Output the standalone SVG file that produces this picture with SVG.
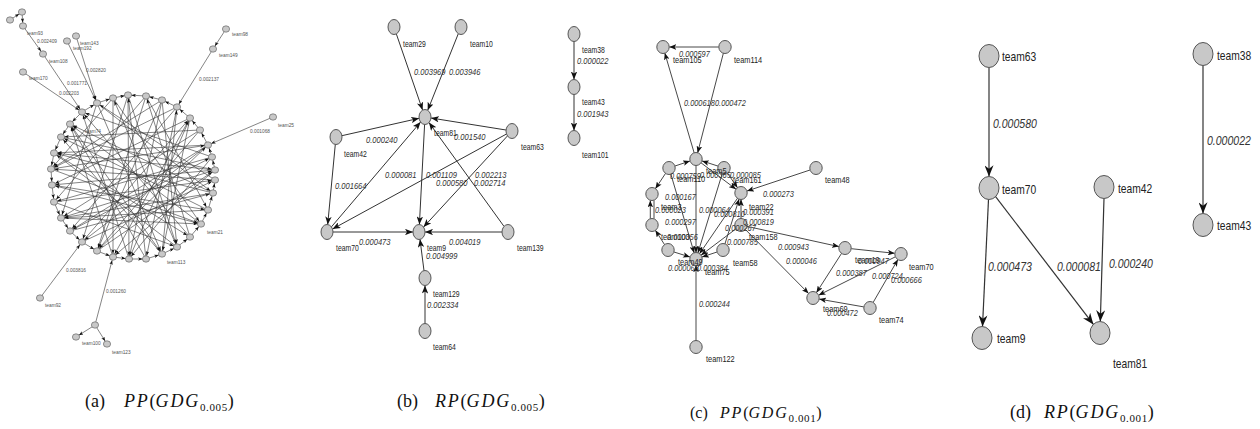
<svg xmlns="http://www.w3.org/2000/svg" width="1260" height="429" viewBox="0 0 1260 429">
<style>
  .bg{fill:#fff}
  .node ellipse{fill:#c8c8c8;stroke:#555;stroke-width:1}
  .na ellipse{fill:#c8c8c8;stroke:#555;stroke-width:.6}
  .ea line{stroke:#333;stroke-width:.6;marker-end:url(#ma)}
  .eb line{stroke:#333;stroke-width:1;marker-end:url(#mb)}
  .ec line{stroke:#333;stroke-width:.9;marker-end:url(#mc)}
  .ed line{stroke:#333;stroke-width:1.2;marker-end:url(#md)}
  text{font-family:"Liberation Sans",Arial,sans-serif;fill:#222}
  .ta{font-size:4.8px;fill:#555}
  .tb{font-size:9px}
  .wb{font-size:9px;font-style:italic;fill:#333}
  .tc{font-size:8.5px}
  .wc{font-size:8.5px;font-style:italic;fill:#333}
  .td{font-size:13px}
  .wd{font-size:13.5px;font-style:italic;fill:#333}
  .cap{font-family:"Liberation Serif","Times New Roman",serif;font-size:18px;fill:#111}
  .cap .i{font-style:italic;letter-spacing:1.8px}
  .cap .s{font-size:11px;letter-spacing:.6px}
</style>
<defs>
  <marker id="ma" viewBox="0 0 10 8" markerUnits="userSpaceOnUse" markerWidth="4.4" markerHeight="3.5" refX="18" refY="4" orient="auto"><path d="M0,0L10,4L0,8L2.5,4z" fill="#111"/></marker>
  <marker id="mb" viewBox="0 0 10 8" markerUnits="userSpaceOnUse" markerWidth="8" markerHeight="6.4" refX="10" refY="4" orient="auto"><path d="M0,0L10,4L0,8L2.5,4z" fill="#111"/></marker>
  <marker id="mc" viewBox="0 0 10 8" markerUnits="userSpaceOnUse" markerWidth="7" markerHeight="5.6" refX="10" refY="4" orient="auto"><path d="M0,0L10,4L0,8L2.5,4z" fill="#111"/></marker>
  <marker id="md" viewBox="0 0 10 8" markerUnits="userSpaceOnUse" markerWidth="12" markerHeight="9" refX="10" refY="4" orient="auto"><path d="M0,0L10,4L0,8L3,4z" fill="#111"/></marker>
</defs>
<rect class="bg" x="0" y="0" width="1260" height="429"/>

<!-- ===== (a) large graph ===== -->
<g id="a-connectors" class="ea">
  <line x1="97" y1="103" x2="162" y2="254"/>
  <line x1="97" y1="103" x2="213" y2="193"/>
  <line x1="113" y1="98" x2="113" y2="257"/>
  <line x1="113" y1="98" x2="201" y2="224"/>
  <line x1="128" y1="95" x2="129" y2="259"/>
  <line x1="128" y1="95" x2="82" y2="242"/>
  <line x1="128" y1="95" x2="177" y2="247"/>
  <line x1="146" y1="96" x2="54" y2="202"/>
  <line x1="146" y1="96" x2="208" y2="210"/>
  <line x1="162" y1="100" x2="97" y2="251"/>
  <line x1="162" y1="100" x2="51" y2="169"/>
  <line x1="177" y1="107" x2="70" y2="231"/>
  <line x1="177" y1="107" x2="146" y2="259"/>
  <line x1="190" y1="118" x2="52" y2="185"/>
  <line x1="190" y1="118" x2="113" y2="257"/>
  <line x1="200" y1="130" x2="61" y2="218"/>
  <line x1="200" y1="130" x2="61" y2="137"/>
  <line x1="208" y1="145" x2="82" y2="242"/>
  <line x1="208" y1="145" x2="54" y2="153"/>
  <line x1="212" y1="157" x2="54" y2="202"/>
  <line x1="212" y1="157" x2="82" y2="112"/>
  <line x1="215" y1="170" x2="52" y2="185"/>
  <line x1="215" y1="170" x2="113" y2="257"/>
  <line x1="215" y1="180" x2="51" y2="169"/>
  <line x1="215" y1="180" x2="97" y2="103"/>
  <line x1="213" y1="193" x2="54" y2="153"/>
  <line x1="213" y1="193" x2="70" y2="124"/>
  <line x1="208" y1="210" x2="61" y2="137"/>
  <line x1="201" y1="224" x2="70" y2="124"/>
  <line x1="201" y1="224" x2="52" y2="185"/>
  <line x1="190" y1="237" x2="82" y2="112"/>
  <line x1="190" y1="237" x2="146" y2="96"/>
  <line x1="177" y1="247" x2="54" y2="153"/>
  <line x1="177" y1="247" x2="113" y2="98"/>
  <line x1="162" y1="254" x2="61" y2="137"/>
  <line x1="162" y1="254" x2="177" y2="107"/>
  <line x1="146" y1="259" x2="70" y2="124"/>
  <line x1="146" y1="259" x2="128" y2="95"/>
  <line x1="129" y1="259" x2="82" y2="112"/>
  <line x1="129" y1="259" x2="190" y2="118"/>
  <line x1="113" y1="257" x2="70" y2="124"/>
  <line x1="97" y1="251" x2="208" y2="145"/>
  <line x1="97" y1="251" x2="215" y2="170"/>
  <line x1="82" y1="242" x2="215" y2="180"/>
  <line x1="82" y1="242" x2="190" y2="118"/>
  <line x1="70" y1="231" x2="212" y2="157"/>
  <line x1="70" y1="231" x2="213" y2="193"/>
  <line x1="61" y1="218" x2="215" y2="170"/>
  <line x1="61" y1="218" x2="201" y2="224"/>
  <line x1="54" y1="202" x2="215" y2="180"/>
  <line x1="54" y1="202" x2="177" y2="247"/>
  <line x1="52" y1="185" x2="208" y2="210"/>
  <line x1="51" y1="169" x2="201" y2="224"/>
  <line x1="51" y1="169" x2="208" y2="145"/>
  <line x1="54" y1="153" x2="190" y2="237"/>
  <line x1="61" y1="137" x2="215" y2="170"/>
  <line x1="70" y1="124" x2="162" y2="254"/>
  <line x1="177" y1="107" x2="51" y2="169"/>
  <line x1="200" y1="130" x2="97" y2="251"/>
  <line x1="212" y1="157" x2="129" y2="259"/>
  <line x1="162" y1="100" x2="177" y2="247"/>
  <line x1="97" y1="103" x2="61" y2="218"/>
  <line x1="113" y1="98" x2="51" y2="169"/>
  <line x1="208" y1="210" x2="61" y2="218"/>
  <line x1="146" y1="96" x2="97" y2="251"/>
  <line x1="162" y1="100" x2="129" y2="259"/>
  <line x1="190" y1="118" x2="162" y2="254"/>
  <line x1="215" y1="170" x2="54" y2="153"/>
  <line x1="213" y1="193" x2="61" y2="218"/>
  <line x1="208" y1="145" x2="70" y2="231"/>
  <!-- ring neighbours -->
  <line x1="97" y1="103" x2="113" y2="98"/>
  <line x1="113" y1="98" x2="128" y2="95"/>
  <line x1="146" y1="96" x2="128" y2="95"/>
  <line x1="162" y1="100" x2="146" y2="96"/>
  <line x1="177" y1="107" x2="162" y2="100"/>
  <line x1="190" y1="118" x2="177" y2="107"/>
  <line x1="200" y1="130" x2="190" y2="118"/>
  <line x1="208" y1="145" x2="200" y2="130"/>
  <line x1="212" y1="157" x2="208" y2="145"/>
  <line x1="215" y1="170" x2="212" y2="157"/>
  <line x1="213" y1="193" x2="215" y2="180"/>
  <line x1="208" y1="210" x2="213" y2="193"/>
  <line x1="201" y1="224" x2="208" y2="210"/>
  <line x1="190" y1="237" x2="201" y2="224"/>
  <line x1="177" y1="247" x2="190" y2="237"/>
  <line x1="162" y1="254" x2="177" y2="247"/>
  <line x1="146" y1="259" x2="162" y2="254"/>
  <line x1="129" y1="259" x2="146" y2="259"/>
  <line x1="113" y1="257" x2="129" y2="259"/>
  <line x1="97" y1="251" x2="113" y2="257"/>
  <line x1="82" y1="242" x2="97" y2="251"/>
  <line x1="70" y1="231" x2="82" y2="242"/>
  <line x1="61" y1="218" x2="70" y2="231"/>
  <line x1="54" y1="202" x2="61" y2="218"/>
  <line x1="52" y1="185" x2="54" y2="202"/>
  <line x1="51" y1="169" x2="52" y2="185"/>
  <line x1="54" y1="153" x2="51" y2="169"/>
  <line x1="61" y1="137" x2="54" y2="153"/>
  <line x1="70" y1="124" x2="61" y2="137"/>
  <line x1="82" y1="112" x2="70" y2="124"/>
  <line x1="82" y1="112" x2="97" y2="103"/>
  <!-- outer branches -->
  <line x1="10" y1="20" x2="22" y2="12"/>
  <line x1="22" y1="12" x2="23" y2="26"/>
  <line x1="23" y1="26" x2="43" y2="54"/>
  <line x1="43" y1="54" x2="82" y2="112"/>
  <line x1="67" y1="41" x2="97" y2="103"/>
  <line x1="76" y1="36" x2="97" y2="103"/>
  <line x1="23" y1="72" x2="82" y2="112"/>
  <line x1="226" y1="29" x2="213" y2="49"/>
  <line x1="213" y1="49" x2="177" y2="107"/>
  <line x1="273" y1="117" x2="208" y2="145"/>
  <line x1="40" y1="298" x2="82" y2="242"/>
  <line x1="95" y1="325" x2="113" y2="257"/>
  <line x1="95" y1="325" x2="76" y2="337"/>
  <line x1="95" y1="325" x2="107" y2="344"/>
</g>
<g class="na">
  <g id="a-r0"><ellipse cx="97" cy="103" rx="3.6" ry="3.2"/></g>
  <g id="a-r1"><ellipse cx="113" cy="98" rx="3.6" ry="3.2"/></g>
  <g id="a-r2"><ellipse cx="128" cy="95" rx="3.6" ry="3.2"/></g>
  <g id="a-r3"><ellipse cx="146" cy="96" rx="3.6" ry="3.2"/></g>
  <g id="a-r4"><ellipse cx="162" cy="100" rx="3.6" ry="3.2"/></g>
  <g id="a-r5"><ellipse cx="177" cy="107" rx="3.6" ry="3.2"/></g>
  <g id="a-r6"><ellipse cx="190" cy="118" rx="3.6" ry="3.2"/></g>
  <g id="a-r7"><ellipse cx="200" cy="130" rx="3.6" ry="3.2"/></g>
  <g id="a-r8"><ellipse cx="208" cy="145" rx="3.6" ry="3.2"/></g>
  <g id="a-r9"><ellipse cx="212" cy="157" rx="3.6" ry="3.2"/></g>
  <g id="a-r10"><ellipse cx="215" cy="170" rx="3.6" ry="3.2"/></g>
  <g id="a-r11"><ellipse cx="215" cy="180" rx="3.6" ry="3.2"/></g>
  <g id="a-r12"><ellipse cx="213" cy="193" rx="3.6" ry="3.2"/></g>
  <g id="a-r13"><ellipse cx="208" cy="210" rx="3.6" ry="3.2"/></g>
  <g id="a-r14"><ellipse cx="201" cy="224" rx="3.6" ry="3.2"/></g>
  <g id="a-r15"><ellipse cx="190" cy="237" rx="3.6" ry="3.2"/></g>
  <g id="a-r16"><ellipse cx="177" cy="247" rx="3.6" ry="3.2"/></g>
  <g id="a-r17"><ellipse cx="162" cy="254" rx="3.6" ry="3.2"/></g>
  <g id="a-r18"><ellipse cx="146" cy="259" rx="3.6" ry="3.2"/></g>
  <g id="a-r19"><ellipse cx="129" cy="259" rx="3.6" ry="3.2"/></g>
  <g id="a-r20"><ellipse cx="113" cy="257" rx="3.6" ry="3.2"/></g>
  <g id="a-r21"><ellipse cx="97" cy="251" rx="3.6" ry="3.2"/></g>
  <g id="a-r22"><ellipse cx="82" cy="242" rx="3.6" ry="3.2"/></g>
  <g id="a-r23"><ellipse cx="70" cy="231" rx="3.6" ry="3.2"/></g>
  <g id="a-r24"><ellipse cx="61" cy="218" rx="3.6" ry="3.2"/></g>
  <g id="a-r25"><ellipse cx="54" cy="202" rx="3.6" ry="3.2"/></g>
  <g id="a-r26"><ellipse cx="52" cy="185" rx="3.6" ry="3.2"/></g>
  <g id="a-r27"><ellipse cx="51" cy="169" rx="3.6" ry="3.2"/></g>
  <g id="a-r28"><ellipse cx="54" cy="153" rx="3.6" ry="3.2"/></g>
  <g id="a-r29"><ellipse cx="61" cy="137" rx="3.6" ry="3.2"/></g>
  <g id="a-r30"><ellipse cx="70" cy="124" rx="3.6" ry="3.2"/></g>
  <g id="a-r31"><ellipse cx="82" cy="112" rx="3.6" ry="3.2"/></g>
  <g id="a-o1"><ellipse cx="22" cy="12" rx="3.6" ry="3.2"/></g>
  <g id="a-o2"><ellipse cx="10" cy="20" rx="3.6" ry="3.2"/></g>
  <g id="a-team93"><ellipse cx="23" cy="26" rx="3.6" ry="3.2"/></g>
  <g id="a-team108"><ellipse cx="43" cy="54" rx="3.6" ry="3.2"/></g>
  <g id="a-team192"><ellipse cx="67" cy="41" rx="3.6" ry="3.2"/></g>
  <g id="a-team143"><ellipse cx="76" cy="36" rx="3.6" ry="3.2"/></g>
  <g id="a-team170"><ellipse cx="23" cy="72" rx="3.6" ry="3.2"/></g>
  <g id="a-team98"><ellipse cx="226" cy="29" rx="3.6" ry="3.2"/></g>
  <g id="a-team149"><ellipse cx="213" cy="49" rx="3.6" ry="3.2"/></g>
  <g id="a-team25"><ellipse cx="273" cy="117" rx="3.6" ry="3.2"/></g>
  <g id="a-team92"><ellipse cx="40" cy="298" rx="3.6" ry="3.2"/></g>
  <g id="a-o12"><ellipse cx="95" cy="325" rx="3.6" ry="3.2"/></g>
  <g id="a-team100"><ellipse cx="76" cy="337" rx="3.6" ry="3.2"/></g>
  <g id="a-team123"><ellipse cx="107" cy="344" rx="3.6" ry="3.2"/></g>
</g>
<g id="a-labels">
  <text class="ta" x="27" y="35">team93</text>
  <text class="ta" x="37" y="43">0.002409</text>
  <text class="ta" x="49" y="63">team108</text>
  <text class="ta" x="80" y="45">team143</text>
  <text class="ta" x="73" y="50">team192</text>
  <text class="ta" x="86" y="72">0.002820</text>
  <text class="ta" x="67" y="85">0.001771</text>
  <text class="ta" x="59" y="95">0.002203</text>
  <text class="ta" x="29" y="80">team170</text>
  <text class="ta" x="232" y="36">team98</text>
  <text class="ta" x="219" y="57">team149</text>
  <text class="ta" x="199" y="81">0.002137</text>
  <text class="ta" x="278" y="127">team25</text>
  <text class="ta" x="250" y="133">0.001068</text>
  <text class="ta" x="85" y="133">team74</text>
  <text class="ta" x="66" y="272">0.003816</text>
  <text class="ta" x="45" y="307">team92</text>
  <text class="ta" x="106" y="293">0.001260</text>
  <text class="ta" x="82" y="345">team100</text>
  <text class="ta" x="112" y="354">team123</text>
  <text class="ta" x="167" y="264">team113</text>
  <text class="ta" x="207" y="234">team21</text>
</g>

<!-- ===== (b) ===== -->
<g id="b-connectors" class="eb">
  <line x1="396.4" y1="34.1" x2="422.6" y2="110.1"/>
  <line x1="458.3" y1="33.7" x2="427.7" y2="110.3"/>
  <line x1="341.9" y1="135.7" x2="419.1" y2="118.3"/>
  <line x1="506" y1="130" x2="431" y2="118"/>
  <line x1="331.4" y1="226.9" x2="420.6" y2="122.1"/>
  <line x1="504" y1="226.4" x2="429" y2="122.6"/>
  <line x1="424.6" y1="124.5" x2="419.4" y2="224.5"/>
  <line x1="335.3" y1="144.4" x2="327.7" y2="224.6"/>
  <line x1="506.5" y1="134" x2="332.5" y2="229"/>
  <line x1="507.5" y1="135.9" x2="423.5" y2="227.1"/>
  <line x1="333" y1="232" x2="413" y2="232"/>
  <line x1="502" y1="232" x2="425" y2="232"/>
  <line x1="424" y1="270.7" x2="420" y2="239.3"/>
  <line x1="425" y1="323.5" x2="425" y2="285.5"/>
  <line x1="574" y1="41.5" x2="574" y2="79.5"/>
  <line x1="574" y1="94.5" x2="574" y2="130.5"/>
</g>
<g class="node">
  <g id="b-team29"><ellipse cx="394" cy="27" rx="6" ry="7.5"/></g>
  <g id="b-team10"><ellipse cx="461" cy="27" rx="6" ry="7.5"/></g>
  <g id="b-team81"><ellipse cx="425" cy="117" rx="6" ry="7.5"/></g>
  <g id="b-team42"><ellipse cx="336" cy="137" rx="6" ry="7.5"/></g>
  <g id="b-team63"><ellipse cx="512" cy="131" rx="6" ry="7.5"/></g>
  <g id="b-team70"><ellipse cx="327" cy="232" rx="6" ry="7.5"/></g>
  <g id="b-team9"><ellipse cx="419" cy="232" rx="6" ry="7.5"/></g>
  <g id="b-team139"><ellipse cx="508" cy="232" rx="6" ry="7.5"/></g>
  <g id="b-team129"><ellipse cx="425" cy="278" rx="6" ry="7.5"/></g>
  <g id="b-team64"><ellipse cx="425" cy="331" rx="6" ry="7.5"/></g>
  <g id="b-team38"><ellipse cx="574" cy="34" rx="6" ry="7.5"/></g>
  <g id="b-team43"><ellipse cx="574" cy="87" rx="6" ry="7.5"/></g>
  <g id="b-team101"><ellipse cx="574" cy="138" rx="6" ry="7.5"/></g>
</g>
<g id="b-labels">
  <text class="tb" transform="matrix(.76 0 0 1 403 47)">team29</text>
  <text class="tb" transform="matrix(.76 0 0 1 470 47)">team10</text>
  <text class="tb" transform="matrix(.76 0 0 1 434 136)">team81</text>
  <text class="tb" transform="matrix(.76 0 0 1 521 150)">team63</text>
  <text class="tb" transform="matrix(.76 0 0 1 344 157)">team42</text>
  <text class="tb" transform="matrix(.76 0 0 1 336 251)">team70</text>
  <text class="tb" transform="matrix(.76 0 0 1 427 251)">team9</text>
  <text class="tb" transform="matrix(.76 0 0 1 517 251)">team139</text>
  <text class="tb" transform="matrix(.76 0 0 1 433 297)">team129</text>
  <text class="tb" transform="matrix(.76 0 0 1 433 350)">team64</text>
  <text class="tb" transform="matrix(.76 0 0 1 582 53)">team38</text>
  <text class="tb" transform="matrix(.76 0 0 1 582 105)">team43</text>
  <text class="tb" transform="matrix(.76 0 0 1 582 158)">team101</text>
  <text class="wb" transform="matrix(.84 0 0 1 414 75)">0.003969</text>
  <text class="wb" transform="matrix(.84 0 0 1 449 75)">0.003946</text>
  <text class="wb" transform="matrix(.84 0 0 1 454 140)">0.001540</text>
  <text class="wb" transform="matrix(.84 0 0 1 366 143)">0.000240</text>
  <text class="wb" transform="matrix(.84 0 0 1 335 189)">0.001664</text>
  <text class="wb" transform="matrix(.84 0 0 1 385 178)">0.000081</text>
  <text class="wb" transform="matrix(.84 0 0 1 426 178)">0.001109</text>
  <text class="wb" transform="matrix(.84 0 0 1 436 186)">0.000580</text>
  <text class="wb" transform="matrix(.84 0 0 1 475 178)">0.002213</text>
  <text class="wb" transform="matrix(.84 0 0 1 474 186)">0.002714</text>
  <text class="wb" transform="matrix(.84 0 0 1 359 245)">0.000473</text>
  <text class="wb" transform="matrix(.84 0 0 1 449 245)">0.004019</text>
  <text class="wb" transform="matrix(.84 0 0 1 426 259)">0.004999</text>
  <text class="wb" transform="matrix(.84 0 0 1 427 308)">0.002334</text>
  <text class="wb" transform="matrix(.84 0 0 1 577 64)">0.000022</text>
  <text class="wb" transform="matrix(.84 0 0 1 577 117)">0.001943</text>
</g>

<!-- ===== (c) ===== -->
<g id="c-connectors" class="ec">
  <line x1="718.7" y1="47" x2="669.3" y2="47"/>
  <line x1="723.4" y1="53.1" x2="697.6" y2="152.9"/>
  <line x1="694.2" y1="153" x2="664.8" y2="53"/>
  <line x1="675" y1="166" x2="690" y2="161"/>
  <line x1="718" y1="166.1" x2="702" y2="160.9"/>
  <line x1="701" y1="162.8" x2="736" y2="189.2"/>
  <line x1="665.6" y1="173.3" x2="655.4" y2="188.7"/>
  <line x1="650.3" y1="218.6" x2="650.3" y2="200.4"/>
  <line x1="654" y1="218.6" x2="654" y2="200.4" style="marker-end:none"/>
  <line x1="664.6" y1="244.7" x2="655.4" y2="230.3"/>
  <line x1="670.8" y1="174" x2="694.2" y2="253"/>
  <line x1="696" y1="165.3" x2="696" y2="252.7"/>
  <line x1="722.1" y1="174" x2="697.9" y2="253"/>
  <line x1="737.5" y1="198.2" x2="699.5" y2="253.8"/>
  <line x1="736" y1="228.8" x2="701" y2="255.2"/>
  <line x1="674" y1="252" x2="690" y2="257"/>
  <line x1="717" y1="252" x2="702" y2="257"/>
  <line x1="741" y1="218.7" x2="741" y2="199.3"/>
  <line x1="724.9" y1="244" x2="739.1" y2="199"/>
  <line x1="727.5" y1="173.2" x2="737.5" y2="187.8"/>
  <line x1="810" y1="170" x2="747" y2="191"/>
  <line x1="696" y1="340.7" x2="696" y2="265.3"/>
  <line x1="747.1" y1="226.4" x2="838.9" y2="246.6"/>
  <line x1="745.4" y1="229.5" x2="808.6" y2="293.5"/>
  <line x1="851.3" y1="248.7" x2="894.7" y2="253.3"/>
  <line x1="841.6" y1="253.3" x2="816.4" y2="292.7"/>
  <line x1="895.4" y1="256.8" x2="818.6" y2="295.2"/>
  <line x1="863.8" y1="306.9" x2="819.2" y2="299.1"/>
  <line x1="873.1" y1="302.5" x2="897.9" y2="259.5"/>
</g>
<g class="node">
  <g id="c-team105"><ellipse cx="663" cy="47" rx="6.2" ry="6.5"/></g>
  <g id="c-team114"><ellipse cx="725" cy="47" rx="6.2" ry="6.5"/></g>
  <g id="c-team5"><ellipse cx="696" cy="159" rx="6.2" ry="6.5"/></g>
  <g id="c-team110"><ellipse cx="669" cy="168" rx="6.2" ry="6.5"/></g>
  <g id="c-team161"><ellipse cx="724" cy="168" rx="6.2" ry="6.5"/></g>
  <g id="c-team3"><ellipse cx="652" cy="194" rx="6.2" ry="6.5"/></g>
  <g id="c-team22"><ellipse cx="741" cy="193" rx="6.2" ry="6.5"/></g>
  <g id="c-team100"><ellipse cx="652" cy="225" rx="6.2" ry="6.5"/></g>
  <g id="c-team158"><ellipse cx="741" cy="225" rx="6.2" ry="6.5"/></g>
  <g id="c-team49"><ellipse cx="668" cy="250" rx="6.2" ry="6.5"/></g>
  <g id="c-team58"><ellipse cx="723" cy="250" rx="6.2" ry="6.5"/></g>
  <g id="c-team75"><ellipse cx="696" cy="259" rx="6.2" ry="6.5"/></g>
  <g id="c-team48"><ellipse cx="816" cy="168" rx="6.2" ry="6.5"/></g>
  <g id="c-team19"><ellipse cx="845" cy="248" rx="6.2" ry="6.5"/></g>
  <g id="c-team70"><ellipse cx="901" cy="254" rx="6.2" ry="6.5"/></g>
  <g id="c-team69"><ellipse cx="813" cy="298" rx="6.2" ry="6.5"/></g>
  <g id="c-team74"><ellipse cx="870" cy="308" rx="6.2" ry="6.5"/></g>
  <g id="c-team122"><ellipse cx="696" cy="347" rx="6.2" ry="6.5"/></g>
</g>
<g id="c-labels">
  <text class="tc" transform="matrix(.87 0 0 1 673 63)">team105</text>
  <text class="tc" transform="matrix(.87 0 0 1 734 63)">team114</text>
  <text class="tc" transform="matrix(.87 0 0 1 825 183)">team48</text>
  <text class="tc" transform="matrix(.87 0 0 1 706 174)">team5</text>
  <text class="tc" transform="matrix(.87 0 0 1 677 182)">team110</text>
  <text class="tc" transform="matrix(.87 0 0 1 733 183)">team161</text>
  <text class="tc" transform="matrix(.87 0 0 1 661 210)">team3</text>
  <text class="tc" transform="matrix(.87 0 0 1 749 210)">team22</text>
  <text class="tc" transform="matrix(.87 0 0 1 749 240)">team158</text>
  <text class="tc" transform="matrix(.87 0 0 1 661 240)">team100</text>
  <text class="tc" transform="matrix(.87 0 0 1 733 266)">team58</text>
  <text class="tc" transform="matrix(.87 0 0 1 678 265)">team49</text>
  <text class="tc" transform="matrix(.87 0 0 1 705 275)">team75</text>
  <text class="tc" transform="matrix(.87 0 0 1 855 263)">team19</text>
  <text class="tc" transform="matrix(.87 0 0 1 909 270)">team70</text>
  <text class="tc" transform="matrix(.87 0 0 1 823 312)">team69</text>
  <text class="tc" transform="matrix(.87 0 0 1 879 323)">team74</text>
  <text class="tc" transform="matrix(.87 0 0 1 706 362)">team122</text>
  <text class="wc" transform="matrix(.87 0 0 1 679 57)">0.000597</text>
  <text class="wc" transform="matrix(.87 0 0 1 684 106)">0.000618</text>
  <text class="wc" transform="matrix(.87 0 0 1 715 106)">0.000472</text>
  <text class="wc" transform="matrix(.87 0 0 1 763 197)">0.000273</text>
  <text class="wc" transform="matrix(.87 0 0 1 670 179)">0.000759</text>
  <text class="wc" transform="matrix(.87 0 0 1 700 178)">0.000365</text>
  <text class="wc" transform="matrix(.87 0 0 1 730 178)">0.000085</text>
  <text class="wc" transform="matrix(.87 0 0 1 665 200)">0.000167</text>
  <text class="wc" transform="matrix(.87 0 0 1 655 213)">0.000023</text>
  <text class="wc" transform="matrix(.87 0 0 1 699 213)">0.000064</text>
  <text class="wc" transform="matrix(.87 0 0 1 714 217)">0.000810</text>
  <text class="wc" transform="matrix(.87 0 0 1 743 215)">0.000391</text>
  <text class="wc" transform="matrix(.87 0 0 1 743 225)">0.000819</text>
  <text class="wc" transform="matrix(.87 0 0 1 665 225)">0.000297</text>
  <text class="wc" transform="matrix(.87 0 0 1 725 231)">0.000267</text>
  <text class="wc" transform="matrix(.87 0 0 1 667 240)">0.000356</text>
  <text class="wc" transform="matrix(.87 0 0 1 727 245)">0.000785</text>
  <text class="wc" transform="matrix(.87 0 0 1 778 250)">0.000943</text>
  <text class="wc" transform="matrix(.87 0 0 1 786 264)">0.000046</text>
  <text class="wc" transform="matrix(.87 0 0 1 668 271)">0.000068</text>
  <text class="wc" transform="matrix(.87 0 0 1 697 271)">0.000384</text>
  <text class="wc" transform="matrix(.87 0 0 1 858 264)">0.000947</text>
  <text class="wc" transform="matrix(.87 0 0 1 836 276)">0.000387</text>
  <text class="wc" transform="matrix(.87 0 0 1 872 279)">0.000724</text>
  <text class="wc" transform="matrix(.87 0 0 1 891 283)">0.000666</text>
  <text class="wc" transform="matrix(.87 0 0 1 827 316)">0.000472</text>
  <text class="wc" transform="matrix(.87 0 0 1 699 307)">0.000244</text>
</g>

<!-- ===== (d) ===== -->
<g id="d-connectors" class="ed">
  <line x1="989" y1="67.5" x2="989" y2="176.5"/>
  <line x1="988.5" y1="199.5" x2="982.5" y2="326.5"/>
  <line x1="995.6" y1="196.6" x2="1093.4" y2="324.4"/>
  <line x1="1104" y1="198.5" x2="1100.3" y2="321.5"/>
  <line x1="1203" y1="65.5" x2="1203" y2="213.5"/>
</g>
<g class="node">
  <g id="d-team63"><ellipse cx="989" cy="56" rx="10" ry="11.5"/></g>
  <g id="d-team70"><ellipse cx="989" cy="188" rx="10" ry="11.5"/></g>
  <g id="d-team9"><ellipse cx="982" cy="338" rx="10" ry="11.5"/></g>
  <g id="d-team42"><ellipse cx="1104" cy="187" rx="10" ry="11.5"/></g>
  <g id="d-team81"><ellipse cx="1100" cy="333" rx="10" ry="11.5"/></g>
  <g id="d-team38"><ellipse cx="1203" cy="54" rx="10" ry="11.5"/></g>
  <g id="d-team43"><ellipse cx="1203" cy="225" rx="10" ry="11.5"/></g>
</g>
<g id="d-labels">
  <text class="td" transform="matrix(.79 0 0 1 1002 61)">team63</text>
  <text class="td" transform="matrix(.79 0 0 1 1002 194)">team70</text>
  <text class="td" transform="matrix(.79 0 0 1 1118 193)">team42</text>
  <text class="td" transform="matrix(.79 0 0 1 997 343)">team9</text>
  <text class="td" transform="matrix(.79 0 0 1 1113 368)">team81</text>
  <text class="td" transform="matrix(.79 0 0 1 1217 60)">team38</text>
  <text class="td" transform="matrix(.79 0 0 1 1217 230)">team43</text>
  <text class="wd" transform="matrix(.78 0 0 1 993 128)">0.000580</text>
  <text class="wd" transform="matrix(.78 0 0 1 988 271)">0.000473</text>
  <text class="wd" transform="matrix(.78 0 0 1 1057 271)">0.000081</text>
  <text class="wd" transform="matrix(.78 0 0 1 1109 268)">0.000240</text>
  <text class="wd" transform="matrix(.78 0 0 1 1207 145)">0.000022</text>
</g>

<!-- ===== captions ===== -->
<g id="captions">
  <text class="cap" x="85" y="407">(a)<tspan class="i" x="124">PP</tspan>(<tspan class="i">GDG</tspan><tspan class="s" dy="4">0.005</tspan><tspan dy="-4">)</tspan></text>
  <text class="cap" x="397" y="407">(b)<tspan class="i" x="435">RP</tspan>(<tspan class="i">GDG</tspan><tspan class="s" dy="4">0.005</tspan><tspan dy="-4">)</tspan></text>
  <text class="cap" x="690" y="418" style="font-size:16px">(c)<tspan class="i" x="720">PP</tspan>(<tspan class="i">GDG</tspan><tspan class="s" dy="4">0.001</tspan><tspan dy="-4">)</tspan></text>
  <text class="cap" x="1010" y="418">(d)<tspan class="i" x="1044">RP</tspan>(<tspan class="i">GDG</tspan><tspan class="s" dy="4">0.001</tspan><tspan dy="-4">)</tspan></text>
</g>
</svg>
